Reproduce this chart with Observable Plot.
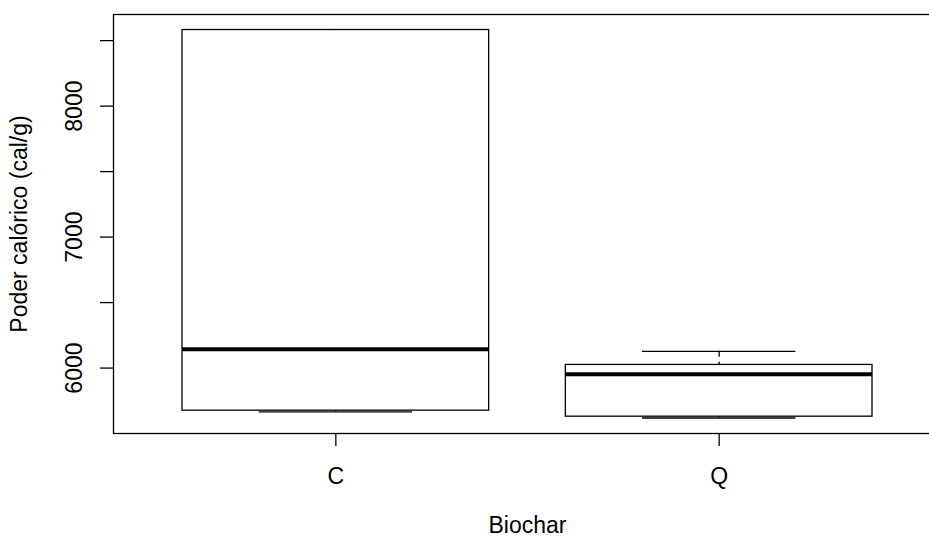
<!DOCTYPE html>
<html><head><meta charset="utf-8">
<script src="https://cdn.jsdelivr.net/npm/d3@7"></script>
<script src="https://cdn.jsdelivr.net/npm/@observablehq/plot@0.6"></script>
<style>html,body{margin:0;padding:0;background:#fff;overflow:hidden}</style>
</head><body><div id="chart"></div>
<script>
const categories = ["C", "Q"];
const lowerWhisker = [5665, 5619];
const lowerQuartile = [5675, 5629];
const median = [6144, 5953];
const upperQuartile = [8581, 6024];
const upperWhisker = [8581, 6128];
const yTicks = [6000, 6500, 7000, 7500, 8000, 8500];
const yTickLabels = [6000, 7000, 8000];
const xTitle = "Biochar";
const yTitle = "Poder calórico (cal/g)";

const boxes = categories.map((c, i) => ({
  cat: c, pos: i + 1,
  lo: lowerWhisker[i], q1: lowerQuartile[i], med: median[i], q3: upperQuartile[i], hi: upperWhisker[i]
}));

const yMin = d3.min(lowerWhisker), yMax = d3.max(upperWhisker);
const yPad = 0.04 * (yMax - yMin);
const xPad = 0.04 * categories.length;

const font = "'Liberation Sans', Arial, sans-serif";
const fs = 23;
const lw = 1.3;

const chart = Plot.plot({
  width: 929,
  height: 538,
  marginLeft: 113,
  marginRight: -12,
  marginTop: 14,
  marginBottom: 105,
  style: {background: "#fff", fontFamily: font, color: "#000", overflow: "visible"},
  x: {type: "linear", domain: [0.5 - xPad, categories.length + 0.5 + xPad]},
  y: {type: "linear", domain: [yMin - yPad, yMax + yPad]},
  marks: [
    Plot.frame({stroke: "#000", strokeWidth: lw}),
    Plot.axisY(yTicks, {tickSize: 13, tickFormat: () => "", label: null, stroke: "#000", strokeWidth: lw}),
    Plot.axisX(boxes.map(b => b.pos), {tickSize: 13, tickFormat: () => "", label: null, stroke: "#000", strokeWidth: lw}),
    Plot.text(yTickLabels, {y: d => d, text: d => String(d), frameAnchor: "left", dx: -32, rotate: -90,
      textAnchor: "middle", lineAnchor: "bottom", fontSize: fs, fill: "#000"}),
    Plot.text(boxes, {x: "pos", text: "cat", frameAnchor: "bottom", dy: 50, lineAnchor: "bottom",
      textAnchor: "middle", fontSize: fs, fill: "#000"}),
    Plot.text([xTitle], {text: d => d, frameAnchor: "bottom", dy: 99.5, lineAnchor: "bottom",
      textAnchor: "middle", fontSize: fs, fill: "#000"}),
    Plot.text([yTitle], {text: d => d, frameAnchor: "left", dx: -86.8, rotate: -90, lineAnchor: "bottom",
      textAnchor: "middle", fontSize: fs, fill: "#000"}),
    // whiskers (dashed)
    Plot.ruleX(boxes, {x: "pos", y1: "hi", y2: "q3", stroke: "#000", strokeWidth: lw, strokeDasharray: "6,5"}),
    Plot.ruleX(boxes, {x: "pos", y1: "lo", y2: "q1", stroke: "#000", strokeWidth: lw, strokeDasharray: "6,5"}),
    // staples
    Plot.ruleY(boxes, {y: "hi", x1: d => d.pos - 0.2, x2: d => d.pos + 0.2, stroke: "#000", strokeWidth: lw}),
    Plot.ruleY(boxes, {y: "lo", x1: d => d.pos - 0.2, x2: d => d.pos + 0.2, stroke: "#000", strokeWidth: lw}),
    // boxes
    Plot.rect(boxes, {x1: d => d.pos - 0.4, x2: d => d.pos + 0.4, y1: "q1", y2: "q3", fill: "#fff", stroke: "#000", strokeWidth: lw}),
    // medians
    Plot.ruleY(boxes, {y: "med", x1: d => d.pos - 0.4, x2: d => d.pos + 0.4, stroke: "#000", strokeWidth: 4})
  ]
});
document.getElementById("chart").appendChild(chart);
</script>
</body></html>
